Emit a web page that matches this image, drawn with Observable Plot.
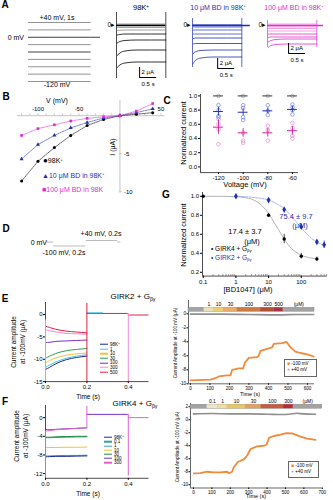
<!DOCTYPE html>
<html><head><meta charset="utf-8">
<script src="https://cdn.jsdelivr.net/npm/d3@7"></script>
<script src="https://cdn.jsdelivr.net/npm/@observablehq/plot@0.6"></script>
<style>
html,body{margin:0;padding:0;background:#fff;}
#root{position:relative;width:333px;height:500px;overflow:hidden;font-family:"Liberation Sans",Arial,Helvetica,sans-serif;}
.t{position:absolute;white-space:nowrap;line-height:1;}
.t sup{font-size:60%;vertical-align:0.5em;line-height:0;}
.t sub{font-size:65%;vertical-align:-0.3em;line-height:0;}
.box{position:absolute;border:0.6px solid #666;background:#fff;}
</style></head><body><div id="root"></div>
<script>
// ================= DATA =================
// Panel A: voltage protocol and current traces
const protocolVoltages = [40, 20, 0, -20, -40, -60, -80, -100, -120];
const stepDuration = 1, holdingEnd = 1.15;
const traceTimes = [0.02, 0.1, 0.25, 0.6, 1.45];
const traces98K = [
  [0.3, 0.3, 0.3, 0.3, 0.3], [0.15, 0.15, 0.15, 0.15, 0.15], [0, 0, 0, 0, 0],
  [-0.45, -0.4, -0.4, -0.4, -0.4], [-1.0, -0.95, -0.9, -0.9, -0.9], [-1.9, -1.8, -1.7, -1.7, -1.7],
  [-3.5, -3.2, -3.0, -2.9, -2.9], [-6.0, -5.5, -5.1, -4.9, -4.9], [-8.4, -7.9, -7.5, -7.3, -7.3]];
const tracesBD10 = [
  [0.15, 0.15, 0.15, 0.15, 0.15], [0, 0, 0, 0, 0], [-0.3, -0.3, -0.3, -0.3, -0.3],
  [-0.9, -0.9, -0.9, -0.9, -0.9], [-1.7, -1.7, -1.7, -1.7, -1.7], [-2.6, -2.5, -2.5, -2.5, -2.5],
  [-3.7, -3.6, -3.6, -3.6, -3.6], [-5.6, -5.2, -5.0, -4.9, -4.9], [-7.6, -6.9, -6.5, -6.3, -6.3]];
const tracesBD100 = [
  [0.3, 0.3, 0.3, 0.3, 0.3], [0.05, 0.05, 0.05, 0.05, 0.05], [-0.3, -0.3, -0.3, -0.3, -0.3],
  [-0.6, -0.6, -0.6, -0.6, -0.6], [-1.1, -1.1, -1.1, -1.1, -1.1], [-1.7, -1.7, -1.7, -1.7, -1.7],
  [-2.4, -2.3, -2.3, -2.3, -2.3], [-3.3, -3.0, -2.8, -2.7, -2.7], [-4.4, -4.0, -3.8, -3.7, -3.7]];
const scaleBar98K = {t: 0.68, i: -10.4}, scaleBarBD10 = {t: 0.74, i: -8.6}, scaleBarBD100 = {t: 0.62, i: -5.6};

// Panel B: I-V relation
const ivVoltages = [-120, -100, -80, -60, -40, -20, 0, 20, 40];
const iv98K = [-8.6, -6.0, -4.2, -2.6, -1.3, -0.5, 0, 0.2, 0.4];
const ivBD10 = [-5.7, -3.8, -2.6, -1.6, -0.9, -0.3, 0, 0.4, 0.9];
const ivBD100 = [-2.6, -1.7, -1.2, -0.7, -0.35, -0.15, 0, 0.6, 1.6];
const ivXTicks = [-100, -50, 50], ivYTicks = [-5, -10];

// Panel C: normalized current
const cVoltages = [-120, -100, -80, -60];
const cMean98K = [1, 1, 1, 1];
const cMeanBD10 = [0.78, 0.77, 0.79, 0.81], cSemBD10 = [0.06, 0.05, 0.04, 0.04];
const cMeanBD100 = [0.56, 0.48, 0.48, 0.51], cSemBD100 = [0.1, 0.06, 0.06, 0.06];
const cCellsBD10 = [[0.87, 0.8, 0.72, 0.7], [0.87, 0.83, 0.7, 0.66], [0.87, 0.79, 0.73], [0.88, 0.84, 0.8, 0.74]];
const cCellsBD100 = [[0.67, 0.6, 0.53, 0.32], [0.48, 0.37, 0.34], [0.58, 0.52, 0.37], [0.62, 0.55, 0.44, 0.4]];

// Panel D: protocol segments
const protocolD = [{v: 0, t0: -0.045, t1: 0}, {v: -100, t0: 0, t1: 0.2}, {v: 40, t0: 0.205, t1: 0.4}, {v: 0, t0: 0.4, t1: 0.42}];

// Panel G: dose response
const gConcK4 = [0.1, 10, 30, 100, 300], gMeanK4 = [1.0, 0.8, 0.55, 0.37, 0.34], gSemK4 = [0, 0.02, 0.05, 0.03, 0.02];
const gConcK2 = [1, 10, 30, 100, 300, 500], gMeanK2 = [1.0, 0.96, 0.86, 0.68, 0.52, 0.49], gSemK2 = [0, 0.01, 0.01, 0.03, 0.02, 0.04];
const gFitConcK4 = [0.1, 0.3, 1, 2, 3, 5, 7, 10, 15, 20, 30, 50, 70, 100, 200, 300];
const gFitK4 = [1.0, 1.0, 0.995, 0.985, 0.97, 0.93, 0.885, 0.82, 0.72, 0.65, 0.55, 0.45, 0.41, 0.38, 0.35, 0.34];
const gFitConcK2 = [1, 3, 10, 20, 30, 50, 75, 100, 150, 200, 300, 500];
const gFitK2 = [1.0, 0.99, 0.96, 0.91, 0.87, 0.79, 0.72, 0.67, 0.6, 0.56, 0.52, 0.48];

// Panel E (left): GIRK2 traces
const eNames = ["98K+", "1", "10", "30", "100", "300", "500"];
const eColors = ["#1b2a8f", "#45c3e6", "#f0c040", "#2f9e4f", "#7b2fbf", "#f58bd3", "#e3203c"];
const eTimes = [0, 0.02, 0.05, 0.1, 0.15, 0.2];
const eTraces = [[-12.3, -11.8, -11.0, -10.1, -9.6, -9.3], [-11.8, -11.3, -10.6, -9.8, -9.3, -9.0],
  [-10.8, -10.3, -9.7, -9.1, -8.8, -8.6], [-9.8, -9.3, -8.7, -8.1, -7.8, -7.6],
  [-6.3, -6.2, -6.0, -5.9, -5.8, -5.7], [-3.4, -3.6, -3.9, -4.2, -4.3, -4.4], [-2.6, -2.9, -3.3, -3.7, -3.9, -4.1]];
const eTail = [{t0: 0.2, t1: 0.4, i: 0.25, k: 6}, {t0: 0.2, t1: 0.28, i: 0.4, k: 1}, {t0: 0.4, t1: 0.5, i: -0.1, k: 6}];
const eTransients = [{t: 0, i1: -15, i2: -1.2, k: 5}, {t: 0.2, i1: -15, i2: 2.5, k: 6}, {t: 0.4, i1: -15, i2: 0.25, k: 5}];

// Panel F (left): GIRK4 traces
const fNames = ["98K+", "0.1", "1", "10", "30", "100", "300"];
const fColors = ["#1b2a8f", "#2aa39a", "#3b9be0", "#f2c230", "#1f8a3f", "#7b2fbf", "#e35fd0"];
const fTraces = [[-8.4, -8.35, -8.3, -8.3, -8.25, -8.2], [-4.3, -4.3, -4.25, -4.2, -4.15, -4.1],
  [-8.2, -8.2, -8.15, -8.1, -8.1, -8.05], [-6.4, -6.4, -6.4, -6.35, -6.35, -6.3],
  [-4.2, -4.2, -4.1, -4.05, -4.0, -4.0], [-2.5, -2.6, -2.5, -2.4, -2.3, -2.2], [-2.9, -2.75, -2.6, -2.45, -2.3, -2.1]];
const fDrawOrder = [2, 0, 1, 3, 4, 5, 6];
const fTail = [{t0: 0.2, t1: 0.4, i: 0.7, k: 5}, {t0: 0.4, t1: 0.5, i: 0, k: 6}];
const fTransients = [{t: 0, i1: -13, i2: -2.9, k: 6}, {t: 0.2, i1: -2.1, i2: 2.4, k: 6}, {t: 0.4, i1: -12.5, i2: 0.7, k: 6}];

// Panel E (right): GIRK2 time course
const erTime = [0, 102, 128, 145, 188, 205, 214, 248, 270, 279, 299, 342, 350, 359, 393, 419, 427, 470, 492, 513, 538, 564, 598, 632];
const erMinus100 = [-9.5, -9.4, -9.2, -8.95, -8.8, -8.8, -8.0, -7.8, -7.8, -7.0, -6.3, -6.2, -6.0, -5.3, -5.0, -4.8, -4.3, -4.2, -4.0, -4.8, -5.4, -5.6, -5.8, -6.1];
const erTimePlus40 = [0, 150, 300, 450, 550, 632], erPlus40 = [-0.05, -0.05, -0.1, -0.15, -0.1, -0.1];
const erConcLabels = ["1", "10", "30", "100", "300", "500"];
const erConcBounds = [70, 118, 170, 240, 360, 430, 475];
const erConcColors = ["#e9e2b8", "#ead070", "#eaac6c", "#cc7a44", "#b24e38", "#a63244"];

// Panel F (right): GIRK4 time course
const frTime = [2, 38, 74, 110, 147, 183, 192, 210, 219, 241, 274, 292, 310, 346, 382, 397, 410, 437, 473, 505, 536, 554, 582, 618, 663];
const frMinus100 = [-8.25, -8.2, -8.0, -8.1, -8.1, -8.0, -8.2, -8.0, -7.3, -6.5, -6.1, -5.5, -4.5, -4.1, -4.0, -3.85, -2.8, -2.5, -2.3, -2.05, -2.1, -2.3, -2.6, -2.9, -3.1];
const frTimePlus40 = [0, 100, 200, 300, 400, 480, 520, 560, 600, 663], frPlus40 = [0.9, 0.95, 0.9, 0.9, 0.85, 0.8, 0.85, 1.0, 0.9, 0.85];
const frConcLabels = ["0.1", "1", "10", "30", "100", "300"];
const frConcBounds = [74, 132, 184, 284, 368, 490, 542];
const frConcColors = ["#ece6cc", "#efe0a0", "#e8c860", "#e4a060", "#c85a40", "#c02838"];

// ================= DRAWING =================
const root = document.getElementById("root");
const FONT = '"Liberation Sans", Arial, Helvetica, sans-serif';
const BLUE = "#1f2fb0", MAG = "#e22ccf", ORANGE = "#f28a3a";
const num = d => String(d);

function addPlot(frame, m, {fontSize = 6, ...opts}) {
  const [x0, x1, y0, y1] = frame, [mt, mr, mb, ml] = m;
  const svg = Plot.plot({
    width: x1 - x0 + ml + mr, height: y1 - y0 + mt + mb,
    marginTop: mt, marginRight: mr, marginBottom: mb, marginLeft: ml,
    style: {background: "transparent", fontFamily: FONT, fontSize: fontSize + "px", overflow: "visible", color: "#000"},
    ...opts
  });
  Object.assign(svg.style, {position: "absolute", left: (x0 - ml) + "px", top: (y0 - mt) + "px"});
  root.appendChild(svg);
}
function label(html, x, y, {size = 7, anchor = "middle", color = "#000", bold = false, rotate = 0} = {}) {
  const d = document.createElement("div");
  d.className = "t"; d.innerHTML = html;
  Object.assign(d.style, {fontSize: size + "px", color, left: x + "px", top: y + "px", fontWeight: bold ? "bold" : "normal"});
  const tx = anchor === "middle" ? "-50%" : anchor === "end" ? "-100%" : "0";
  d.style.transform = `translate(${tx},-50%)` + (rotate ? ` rotate(${rotate}deg)` : "");
  root.appendChild(d);
  return d;
}
const sup = s => s.replace(/\+$/, "<sup>+</sup>");

// ---- A1 protocol
addPlot([28, 100, 22, 81], [2, 2, 2, 2], {
  x: {domain: [0, holdingEnd], axis: null}, y: {domain: [-120, 40], axis: null},
  marks: [
    Plot.ruleY(protocolVoltages, {y: d => d, x1: 0, x2: stepDuration, stroke: d => (d === 0 || d === -40) ? "#111" : "#777", strokeWidth: 0.8}),
    Plot.ruleY([0], {x1: stepDuration, x2: holdingEnd, stroke: "#111", strokeWidth: 0.8})
  ]
});

// ---- A2-A4 traces
function tracePanel(frame, traces, colorFn, zeroEnd, transient, sb, sbColor) {
  const data = traces.flatMap((vals, k) => traceTimes.map((t, j) => ({v: protocolVoltages[k], t, i: vals[j], c: colorFn(protocolVoltages[k])})));
  const tEnd = traceTimes[traceTimes.length - 1];
  addPlot(frame, [2, 2, 12, 2], {
    fontSize: 6,
    x: {domain: [0, 1.5], axis: null}, y: {domain: [-10.6, 2.6], axis: null}, color: {type: "identity"},
    marks: [
      Plot.ruleX([0, tEnd], {y1: transient[0], y2: transient[1], stroke: transient[2], strokeWidth: 0.7}),
      Plot.line(data, {x: "t", y: "i", z: "v", stroke: "c", strokeWidth: 0.8, curve: "monotone-x"}),
      Plot.ruleY([0], {x1: 0, x2: zeroEnd, stroke: transient[2], strokeWidth: 1.6}),
      Plot.ruleX([sb], {x: d => d.t, y1: d => d.i, y2: d => d.i + 2, stroke: sbColor, strokeWidth: 1}),
      Plot.ruleY([sb], {y: d => d.i, x1: d => d.t, x2: d => d.t + 0.5, stroke: sbColor, strokeWidth: 1}),
      Plot.text([sb], {x: d => d.t, y: d => d.i + 1.1, text: () => "2 μA", dx: 2, textAnchor: "start", fill: sbColor}),
      Plot.text([sb], {x: d => d.t + 0.25, y: d => d.i, text: () => "0.5 s", dy: 6.5, fill: sbColor})
    ]
  });
}
tracePanel([116, 167, 12, 78], traces98K, v => v >= -40 ? "#8a8a8a" : "#000", 1.45, [-10.6, 2.6, "#000"], scaleBar98K, "#000");
tracePanel([192, 243, 12, 78], tracesBD10, v => v >= -40 ? "#3a4ec8" : BLUE, 1.7, [-8.4, 1.4, BLUE], scaleBarBD10, "#000");
tracePanel([267, 318, 12, 78], tracesBD100, v => v >= -40 ? "#f08ae2" : MAG, 1.65, [-4.4, 1.0, MAG], scaleBarBD100, "#000");

// ---- B IV
const ivSeries = [
  {values: iv98K, color: "#000", symbol: "circle"},
  {values: ivBD10, color: BLUE, symbol: "triangle"},
  {values: ivBD100, color: MAG, symbol: "square"}];
addPlot([16.5, 164, 99.8, 192.5], [4, 4, 4, 4], {
  fontSize: 6,
  x: {domain: [-125, 55], axis: null}, y: {domain: [-10.2, 2], axis: null},
  marks: [
    Plot.ruleY([0], {stroke: "#aaa", strokeWidth: 0.7}),
    Plot.ruleX([0], {stroke: "#aaa", strokeWidth: 0.7}),
    Plot.ruleX(d3.range(-120, 51, 10), {y1: 0, y2: 0.25, stroke: "#aaa", strokeWidth: 0.6}),
    Plot.ruleY(ivYTicks, {x1: 0, x2: 3, stroke: "#aaa", strokeWidth: 0.6}),
    Plot.text(ivXTicks, {x: d => d, y: 0, dy: -7, text: num}),
    Plot.text(ivYTicks, {x: 0, y: d => d, dx: 4, textAnchor: "start", text: num}),
    ...ivSeries.flatMap(s => {
      const pts = ivVoltages.map((v, k) => ({v, i: s.values[k]}));
      return [
        Plot.line(pts, {x: "v", y: "i", stroke: s.color, strokeWidth: 0.6, strokeDasharray: "1.6,1"}),
        Plot.dot(pts, {x: "v", y: "i", symbol: s.symbol, fill: s.color, r: 1.5})
      ];
    })
  ]
});

// ---- C normalized current
const cX = [-134.6, -55.1], cY = [-0.08, 1.02];
const cGroups = [
  {mean: cMean98K, sem: [0, 0, 0, 0], cells: cVoltages.map(() => [1]), color: "#333", cellColor: "#999"},
  {mean: cMeanBD10, sem: cSemBD10, cells: cCellsBD10, color: BLUE, cellColor: "#5b6ee0"},
  {mean: cMeanBD100, sem: cSemBD100, cells: cCellsBD100, color: "#d0209e", cellColor: "#e070d0"}];
addPlot([200, 298, 93.6, 171.7], [4, 4, 4, 4], {
  fontSize: 6,
  x: {domain: cX, ticks: cVoltages, tickFormat: num, tickSize: 2, tickPadding: 1.5, label: null},
  y: {domain: cY, ticks: [0, 0.2, 0.4, 0.6, 0.8, 1.0], tickFormat: d => d.toFixed(1), tickSize: 2, tickPadding: 1.5, label: null},
  marks: [
    Plot.ruleX([cX[0]], {strokeWidth: 0.7}),
    Plot.ruleY([cY[0]], {strokeWidth: 0.7}),
    ...cGroups.flatMap(g => {
      const cells = cVoltages.flatMap((v, k) => g.cells[k].map(r => ({v, r})));
      const means = cVoltages.map((v, k) => ({v, m: g.mean[k], s: g.sem[k]}));
      return [
        Plot.dot(cells, {x: "v", y: "r", r: 1.8, stroke: g.cellColor, strokeWidth: 0.6, fill: "none"}),
        Plot.ruleX(means, {x: "v", y1: d => d.m - d.s, y2: d => d.m + d.s, stroke: g.color, strokeWidth: 0.9}),
        Plot.ruleY(means, {y: "m", x1: d => d.v - 4, x2: d => d.v + 4, stroke: g.color, strokeWidth: 1})
      ];
    })
  ]
});

// ---- D protocol
addPlot([45.8, 121.8, 240, 245.5], [2, 2, 2, 2], {
  x: {domain: [-0.045, 0.43], axis: null}, y: {domain: [-100, 40], axis: null},
  marks: [Plot.ruleY(protocolD, {y: "v", x1: "t0", x2: "t1", stroke: "#aaa", strokeWidth: 0.8})]
});

// ---- G dose response
const gX = [0.095, 620], gY = [0.16, 1.04];
const gMinor = [2, 3, 4, 5, 6, 7, 8, 9].flatMap(m => [0.1, 1, 10, 100].map(d => m * d)).filter(d => d < gX[1]);
const gK4 = gConcK4.map((c, k) => ({c, m: gMeanK4[k], s: gSemK4[k]}));
const gK2 = gConcK2.map((c, k) => ({c, m: gMeanK2[k], s: gSemK2[k]}));
addPlot([202.3, 327, 192.2, 275.8], [4, 4, 4, 4], {
  fontSize: 6,
  x: {type: "log", domain: gX, ticks: [0.1, 1, 10, 100], tickFormat: num, tickSize: 2.5, tickPadding: 1.5, label: null},
  y: {domain: gY, ticks: [0.2, 0.4, 0.6, 0.8, 1.0], tickFormat: d => d.toFixed(1), tickSize: 2, tickPadding: 1.5, label: null},
  marks: [
    Plot.ruleX([gX[0]], {strokeWidth: 0.7}),
    Plot.ruleY([gY[0]], {strokeWidth: 0.7}),
    Plot.ruleX(gMinor, {y1: gY[0], y2: gY[0] + 0.014, strokeWidth: 0.5}),
    Plot.line(gFitConcK4.map((c, k) => ({c, r: gFitK4[k]})), {x: "c", y: "r", stroke: "#a0a0a0", strokeWidth: 0.8, curve: "monotone-x"}),
    Plot.line(gFitConcK2.map((c, k) => ({c, r: gFitK2[k]})), {x: "c", y: "r", stroke: "#8d9ae6", strokeWidth: 0.8, strokeDasharray: "2,1.3", curve: "monotone-x"}),
    Plot.ruleX(gK4, {x: "c", y1: d => d.m - d.s, y2: d => d.m + d.s, stroke: "#000", strokeWidth: 0.7}),
    Plot.ruleX(gK2, {x: "c", y1: d => d.m - d.s, y2: d => d.m + d.s, stroke: BLUE, strokeWidth: 0.7}),
    Plot.dot(gK4, {x: "c", y: "m", r: 1.7, fill: "#000"}),
    Plot.dot(gK2, {x: "c", y: "m", r: 2, symbol: "diamond", fill: BLUE})
  ]
});

// ---- E / F left traces
function currentPanel(frame, yDomain, yTicks, names, colors, traces, order, tail, transients) {
  const data = order.flatMap(k => eTimes.map((t, j) => ({k, t, i: traces[k][j], c: colors[k]})));
  addPlot(frame, [4, 4, 4, 4], {
    fontSize: 6,
    color: {type: "identity"},
    x: {domain: [0, 0.5], ticks: [0, 0.2, 0.4], tickFormat: d => d.toFixed(1), tickSize: 2, tickPadding: 1, label: null},
    y: {domain: yDomain, ticks: yTicks, tickFormat: num, tickSize: 2, tickPadding: 1, label: null},
    marks: [
      Plot.ruleX([0], {strokeWidth: 0.7}),
      Plot.ruleY([yDomain[0]], {strokeWidth: 0.7}),
      Plot.line(data, {x: "t", y: "i", z: "k", stroke: "c", strokeWidth: 1, curve: "monotone-x"}),
      Plot.ruleY(tail, {y: "i", x1: "t0", x2: "t1", stroke: d => colors[d.k], strokeWidth: 1}),
      Plot.ruleX(transients, {x: "t", y1: "i1", y2: "i2", stroke: d => colors[d.k], strokeWidth: 1})
    ]
  });
}
currentPanel([45, 148.5, 301.9, 381], [-15, 2.7], [0, -5, -10, -15], eNames, eColors, eTraces, [0, 1, 2, 3, 4, 5, 6], eTail, eTransients);
currentPanel([45, 148.5, 404.9, 477.7], [-13, 2.6], [0, -4, -8, -12], fNames, fColors, fTraces, fDrawOrder, fTail, fTransients);

// ---- E / F right time courses
function timeCourse(frame, xDomain, xTicks, yDomain, yTicks, bar, labels, bounds, colors, t100, i100, t40, i40) {
  const segs = labels.map((l, k) => ({l, t0: bounds[k], t1: bounds[k + 1], c: colors[k]}));
  const mUnit = {l: "(μM)", t: (bounds[bounds.length - 1] + xDomain[1]) / 2};
  addPlot(frame, [4, 4, 4, 4], {
    fontSize: 4.6,
    color: {type: "identity"},
    x: {domain: xDomain, ticks: xTicks, tickFormat: num, tickSize: 1.5, tickPadding: 1, label: null},
    y: {domain: yDomain, ticks: yTicks, tickFormat: num, tickSize: 1.5, tickPadding: 1, label: null},
    marks: [
      Plot.ruleX([xDomain[0]], {strokeWidth: 0.6}),
      Plot.ruleY([yDomain[0]], {strokeWidth: 0.6}),
      Plot.rect([xDomain], {x1: d => d[0], x2: d => d[1], y1: bar[0], y2: bar[1], fill: "#a3a3a3", stroke: "#777", strokeWidth: 0.4}),
      Plot.rect(segs, {x1: "t0", x2: "t1", y1: bar[0], y2: bar[1], fill: "c"}),
      Plot.text(segs, {x: d => (d.t0 + d.t1) / 2, y: bar[1], dy: -3, text: "l", fontSize: 5}),
      Plot.text([mUnit], {x: "t", y: bar[1], dy: -3, text: "l", fontSize: 5}),
      Plot.line(t40.map((t, k) => ({t, i: i40[k]})), {x: "t", y: "i", stroke: "#8f8f8f", strokeWidth: 1.6, curve: "monotone-x"}),
      Plot.line(t100.map((t, k) => ({t, i: i100[k]})), {x: "t", y: "i", stroke: ORANGE, strokeWidth: 1.8})
    ]
  });
}
timeCourse([188, 314, 299.7, 383], [-10, 636], [0, 100, 200, 300, 400, 500, 600], [-10, 1.9], [0, -2, -4, -6, -8, -10],
  [0.3, 0.85], erConcLabels, erConcBounds, erConcColors, erTime, erMinus100, erTimePlus40, erPlus40);
timeCourse([190, 321.8, 402.75, 487.25], [-16, 700], [0, 100, 200, 300, 400, 500, 600, 700], [-10.5, 2.5], [2, 0, -2, -4, -6, -8, -10],
  [1.7, 2.3], frConcLabels, frConcBounds, frConcColors, frTime, frMinus100, frTimePlus40, frPlus40);

// ================= TEXT =================
// Panel letters
[["A", 5, 5], ["B", 6, 97], ["C", 167, 101], ["D", 6, 229], ["G", 166, 195], ["E", 5, 299], ["F", 5, 402]]
  .forEach(([s, x, y]) => label(s, x, y, {size: 10, bold: true}));
// A
label("+40 mV, 1s", 57, 17, {size: 7});
label("0 mV", 24, 37, {size: 7, anchor: "end"});
label("-120 mV", 57, 84, {size: 7});
label("98K<sup>+</sup>", 141, 8, {size: 7.5});
label("10 μM BD in 98K<sup>+</sup>", 218, 7, {size: 7, color: BLUE});
label("100 μM BD in 98K<sup>+</sup>", 294, 7, {size: 7, color: MAG});
[[115, 25], [191, 25], [266, 25]].forEach(([x, y]) => label("0▸", x, y, {size: 6.5, anchor: "end"}));
// B
label("V (mV)", 57, 100, {size: 7});
label("I (μA)", 112, 147, {size: 7, rotate: -90});
label("<span style='font-size:8px'>●</span>98K<sup>+</sup>", 43, 161, {size: 7, anchor: "start"});
label("<span style='font-size:7px'>▲</span>10 μM BD in 98K<sup>+</sup>", 42, 175, {size: 7, anchor: "start", color: BLUE});
label("<span style='font-size:7px'>■</span>100 μM BD in 98K", 42, 189, {size: 7, anchor: "start", color: MAG});
// C
label("Normalized current", 184, 133, {size: 7.5, rotate: -90});
label("Voltage (mV)", 245, 185, {size: 7.5});
// D
label("+40 mV, 0.2s", 101, 233, {size: 7});
label("0 mV", 47, 242, {size: 7, anchor: "end"});
label("-100 mV, 0.2s", 64, 252, {size: 7});
// G
label("Normalized current", 184, 235, {size: 7.5, rotate: -90});
label("[BD1047] (μM)", 248, 290, {size: 7.5});
label("17.4 ± 3.7", 245, 232, {size: 7.5});
label("(μM)", 252, 242, {size: 7.5});
label("75.4 ± 9.7", 296, 217, {size: 7.5, color: BLUE});
label("(μM)", 300, 226, {size: 7.5, color: BLUE});
label("• GIRK4 + G<sub>βγ</sub>", 211, 249, {size: 6.5, anchor: "start"});
label("• GIRK2 + G<sub>βγ</sub>", 211, 258, {size: 6.5, anchor: "start", color: BLUE});
// E / F left
label("GIRK2 + G<sub>βγ</sub>", 133, 297, {size: 8});
label("GIRK4 + G<sub>βγ</sub>", 135, 404, {size: 8});
label("Current amplitude", 14, 342, {size: 6.5, rotate: -90});
label("at -100mV (μA)", 23, 342, {size: 6.5, rotate: -90});
label("Current amplitude", 17, 436, {size: 6.5, rotate: -90});
label("at -100mV (μA)", 26, 436, {size: 6.5, rotate: -90});
label("Time (s)", 88, 397, {size: 6.5});
label("Time (s)", 88, 494, {size: 6.5});
function traceLegend(names, colors, x, y0, dy) {
  names.forEach((n, k) => label(`<span style="display:inline-block;width:8px;height:1.2px;background:${colors[k]};vertical-align:middle;margin-right:2px"></span>${sup(n)}`,
    x, y0 + k * dy, {size: 4.6, anchor: "start"}));
}
traceLegend(eNames, eColors, 100, 345, 4.6);
traceLegend(fNames, fColors, 104, 438, 4.2);
// E / F right
label("Current Amplitude at -100 mV (μA)", 176, 343, {size: 4.6, rotate: -90});
label("Current Amplitude at -100 mV (μA)", 178, 447, {size: 4.6, rotate: -90});
label("Time (s)", 250, 395, {size: 5.5});
label("Time (s)", 256, 497, {size: 5.5});
function tcLegend(x, y, w, h) {
  const b = document.createElement("div"); b.className = "box";
  Object.assign(b.style, {left: x + "px", top: y + "px", width: w + "px", height: h + "px"});
  root.appendChild(b);
  label(`<span style="color:${ORANGE};font-size:5px">■</span> -100 mV`, x + 3, y + h * 0.33, {size: 4.6, anchor: "start"});
  label(`<span style="color:#8f8f8f;font-size:5px">+</span> +40 mV`, x + 3, y + h * 0.7, {size: 4.6, anchor: "start"});
}
tcLegend(284, 359, 31, 16);
tcLegend(288, 461, 29, 15);
</script></body></html>
